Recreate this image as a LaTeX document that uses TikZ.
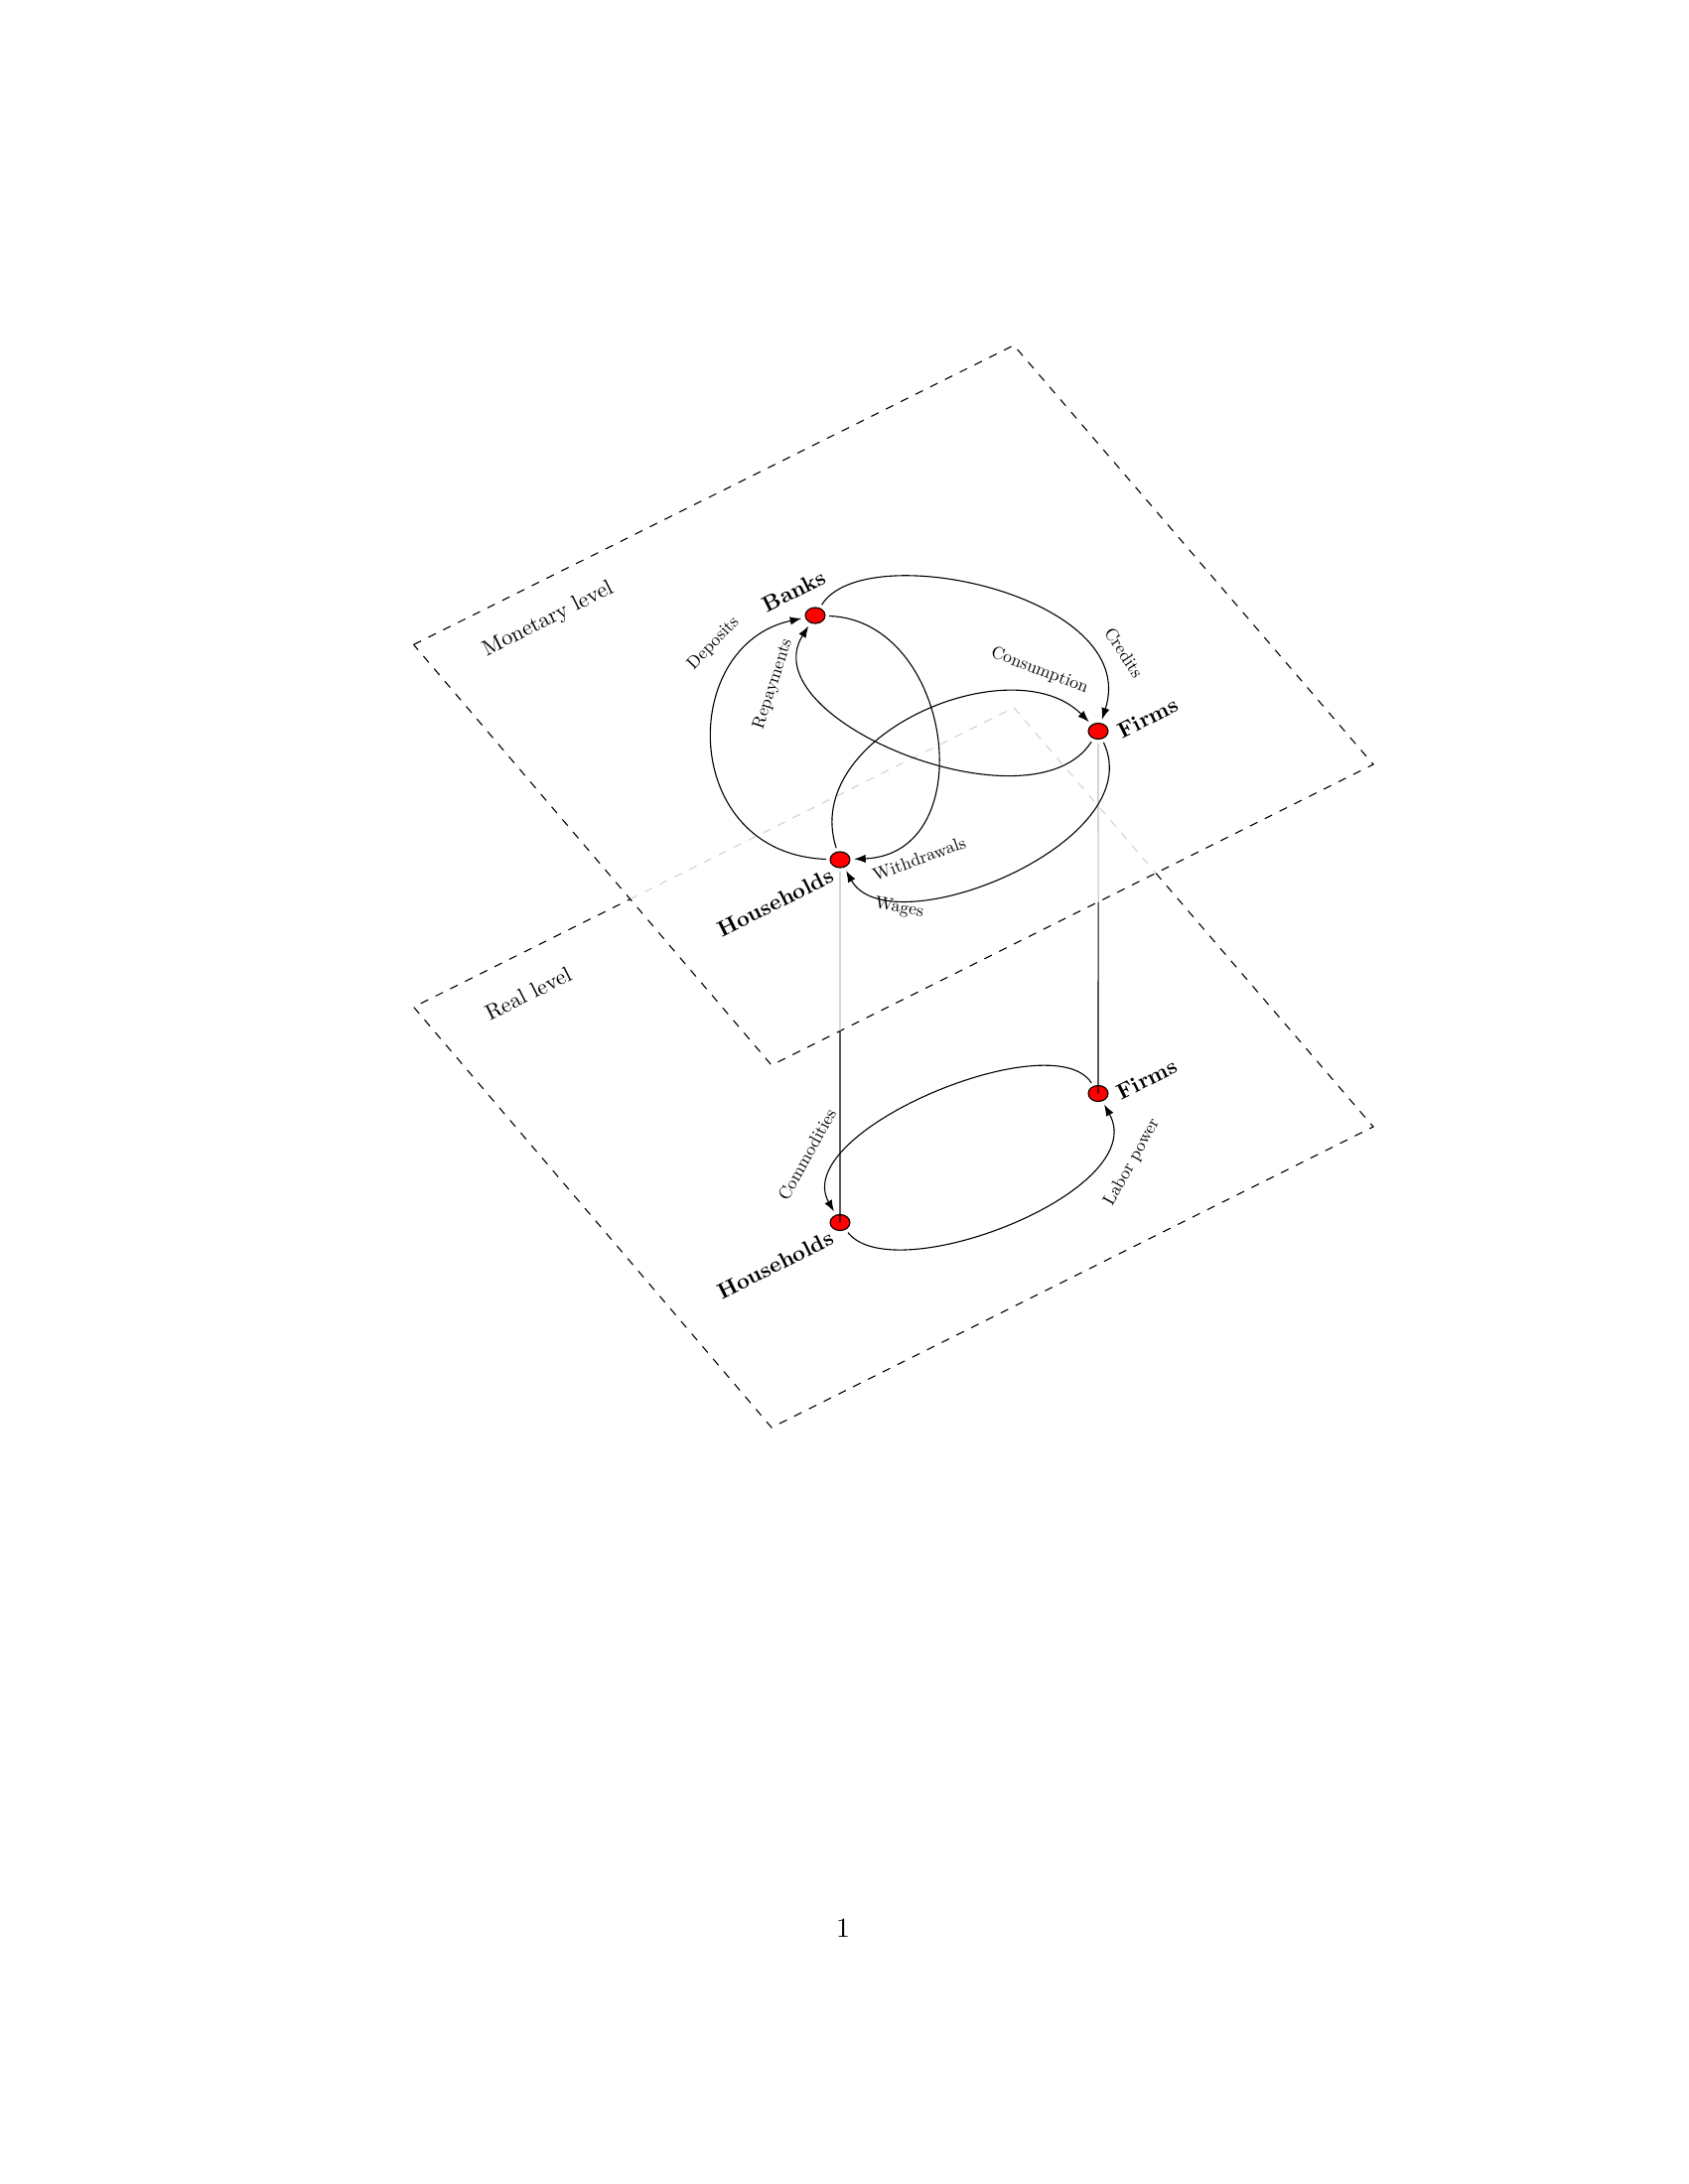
\documentclass[tikz,border=0pt]{standalone}
\usetikzlibrary{shapes.geometric,arrows.meta}
\begin{document}
\begin{tikzpicture}[x=0.0127cm,y=-0.0127cm,
  agent/.style={ellipse,draw,fill=red,minimum width=7.2pt,minimum height=5.8pt,inner sep=0pt,outer sep=1.5pt},
  agentlabel/.style={font=\bfseries,scale=0.8,rotate=26.6,inner sep=1pt},
  planelabel/.style={scale=0.8,rotate=26.6,inner sep=1pt},
  flowlabel/.style={scale=0.64,inner sep=1pt},
  flow/.style={-{Latex[length=4.2pt,width=3pt]}},
  planeedge/.style={dashed},
  hiddenedge/.style={dashed,gray!35},
  hiddenlink/.style={gray!50},
]
\useasboundingbox (0,0) rectangle (1700,2200);

% plane corners
\coordinate (ml) at (416.6,649.4);
\coordinate (mt) at (1021,347.8);
\coordinate (mr) at (1383,770);
\coordinate (mb) at (777,1073);
\coordinate (rl) at (416.6,1014.4);
\coordinate (rt) at (1021,712.8);
\coordinate (rr) at (1383,1135);
\coordinate (rb) at (777,1438);
\coordinate (rxa) at (intersection of rl--rt and ml--mb);
\coordinate (rxb) at (intersection of rt--rr and mb--mr);

% real level plane (partly hidden)
\draw[hiddenedge] (rxa) -- (rt) -- (rxb);
\draw[planeedge] (rxb) -- (rr) -- (rb) -- (rl) -- (rxa);
% monetary level plane
\draw[planeedge] (ml) -- (mt) -- (mr) -- (mb) -- cycle;

\node[planelabel] (monlab) at (552,624) {Monetary level};
\node[planelabel] (reallab) at (532,1001) {Real level};

% agents
\node[agent] (B) at (821,620) {};
\node[agent] (Ft) at (1106,736.5) {};
\node[agent] (Ht) at (846,866) {};
\node[agent] (Fb) at (1106,1101.5) {};
\node[agent] (Hb) at (846,1231.5) {};

\node[agentlabel] (Bl) at (800,595) {Banks};
\node[agentlabel] (Ftl) at (1156,723) {Firms};
\node[agentlabel] (Htl) at (781,909) {Households};
\node[agentlabel] (Fbl) at (1155,1087) {Firms};
\node[agentlabel] (Hbl) at (781,1274) {Households};

% vertical links
\coordinate (hcross) at (intersection of Ht--Hb and mb--mr);
\coordinate (fcross) at (intersection of Ft--Fb and mb--mr);
\draw[hiddenlink] (Ht) -- (hcross);
\draw[hiddenlink] (Ft) -- (fcross);
\draw (hcross) -- (Hb.center);
\draw (fcross) -- (Fb.center);

% monetary flows
\draw[flow] (Ht) .. controls (684,860) and (682,650) .. (B);
\draw[flow] (Ft) .. controls (1040,840) and (755,725) .. (B);
\draw[flow] (B) .. controls (870,540) and (1150,600) .. (Ft);
\draw[flow] (B) .. controls (960,625) and (990,860) .. (Ht);
\draw[flow] (Ht) .. controls (805,740) and (1020,650) .. (Ft);
\draw[flow] (Ft) .. controls (1160,850) and (895,955) .. (Ht);

% real flows
\draw[flow] (Fb) .. controls (1060,1030) and (795,1140) .. (Hb);
\draw[flow] (Hb) .. controls (900,1300) and (1160,1200) .. (Fb);

% flow labels
\node[flowlabel,rotate=46] (dep) at (718.6,648.3) {Deposits};
\node[flowlabel,rotate=72] (rep) at (778.6,689) {Repayments};
\node[flowlabel,rotate=-21] (con) at (1047,675.7) {Consumption};
\node[flowlabel,rotate=-57] (cre) at (1132,657.5) {Credits};
\node[flowlabel,rotate=20] (wit) at (925.7,865) {Withdrawals};
\node[flowlabel,rotate=-10] (wag) at (905.7,915) {Wages};
\node[flowlabel,rotate=61] (com) at (812.7,1162.7) {Commodities};
\node[flowlabel,rotate=61] (lab) at (1140,1170.7) {Labor power};

% page number
\node (pagenum) at (849,1942) {1};
\end{tikzpicture}
\end{document}
